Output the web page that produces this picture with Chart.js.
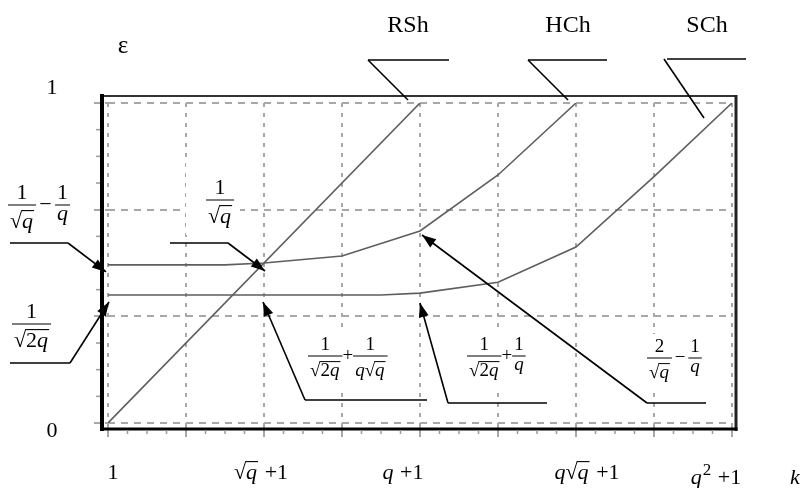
<!DOCTYPE html>
<html>
<head>
<meta charset="utf-8">
<title>ε(k)</title>
<script src="https://cdn.jsdelivr.net/npm/chart.js@4.4.1/dist/chart.umd.min.js"></script>
<style>
  html, body { margin: 0; padding: 0; background: #fff; }
  #wrap { width: 803px; height: 488px; position: relative; }
</style>
</head>
<body>
<div id="wrap"><canvas id="eps"></canvas></div>
<script>
// k runs over 8 grid steps from 1 to q^2+1, epsilon from 0 to 1
var xTickValues = [0, 2, 4, 6, 8];
var xTickLabels = ['1', '√q +1', 'q +1', 'q√q +1', 'q² +1'];
var yTickValues = [0, 1];
var yTickLabels = ['0', '1'];
var yGridValues = [0, 1/3, 2/3, 1];

var seriesNames = ['RSh', 'HCh', 'SCh'];
var rshK = [0, 4];
var rshE = [0, 1];
var hchK = [0, 1.5, 2, 3, 4, 5, 6];
var hchE = [0.494, 0.494, 0.5, 0.522, 0.6, 0.775, 1];
var schK = [0, 3.5, 4, 5, 6, 7, 8];
var schE = [0.4, 0.4, 0.406, 0.44, 0.55, 0.77, 1];

// layout bits (pixels), kept apart from the values
var xTickDx = [5, -3, -17, 11, -16];
var xTickBase = [479, 479, 479, 479, 484];
var SERIF = '"Liberation Serif", "Times New Roman", serif';

function pts(ks, es) {
  return ks.map(function(k, i) { return { x: k, y: es[i] }; });
}

function F(num, den) { return { frac: [parse(num), parse(den)] }; }

// '√' takes the letters/digits after it, '²' is a superscript
function parse(str) {
  var out = [], i = 0;
  while (i < str.length) {
    var c = str[i];
    if (c === '√') {
      var j = i + 1;
      while (j < str.length && /[0-9a-z]/.test(str[j])) j++;
      out.push({ sqrt: parse(str.slice(i + 1, j)) });
      i = j;
    } else if (c === '²') {
      out.push({ sup: '2' }); i++;
    } else {
      out.push(c); i++;
    }
  }
  return out;
}

function fontFor(ch, size) {
  return (/[a-z]/.test(ch) ? 'italic ' : '') + size + 'px ' + SERIF;
}

function measure(ctx, node, size) {
  if (Array.isArray(node)) {
    return node.reduce(function(w, n) { return w + measure(ctx, n, size); }, 0);
  }
  if (typeof node === 'string') {
    if (node === ' ') return size * 0.3;
    if (node === '~') return size * 0.15;
    ctx.font = fontFor(node, size);
    return ctx.measureText(node).width;
  }
  if (node.sqrt) {
    ctx.font = size + 'px ' + SERIF;
    return ctx.measureText('√').width + measure(ctx, node.sqrt, size) + 1;
  }
  if (node.sup) {
    ctx.font = Math.round(size * 0.75) + 'px ' + SERIF;
    return ctx.measureText(node.sup).width + 1;
  }
  if (node.frac) {
    return Math.max(measure(ctx, node.frac[0], size), measure(ctx, node.frac[1], size)) + 4;
  }
  return 0;
}

function ascent(ctx, node, size) {
  if (Array.isArray(node)) {
    return node.reduce(function(a, n) { return Math.max(a, ascent(ctx, n, size)); }, 0);
  }
  if (typeof node === 'string') {
    ctx.font = fontFor(node, size);
    return ctx.measureText(node).actualBoundingBoxAscent;
  }
  if (node.sqrt) {
    ctx.font = size + 'px ' + SERIF;
    return ctx.measureText('√').actualBoundingBoxAscent;
  }
  return size * 0.7;
}

function draw(ctx, node, x, base, size) {
  if (Array.isArray(node)) {
    node.forEach(function(n) { x = draw(ctx, n, x, base, size); });
    return x;
  }
  if (typeof node === 'string') {
    if (node === ' ') return x + size * 0.3;
    if (node === '~') return x + size * 0.15;
    ctx.font = fontFor(node, size);
    ctx.fillText(node, x, base);
    return x + ctx.measureText(node).width;
  }
  if (node.sqrt) {
    ctx.font = size + 'px ' + SERIF;
    var m = ctx.measureText('√');
    ctx.fillText('√', x, base);
    var x0 = x + m.width;
    var top = base - m.actualBoundingBoxAscent + 0.6;
    var x1 = draw(ctx, node.sqrt, x0, base, size) + 1;
    ctx.beginPath();
    ctx.moveTo(x0 - 0.8, top);
    ctx.lineTo(x1, top);
    ctx.lineWidth = Math.max(1, size / 20);
    ctx.strokeStyle = '#000';
    ctx.stroke();
    return x1;
  }
  if (node.sup) {
    ctx.font = Math.round(size * 0.75) + 'px ' + SERIF;
    ctx.fillText(node.sup, x + 1, base - size * 0.42);
    return x + 1 + ctx.measureText(node.sup).width;
  }
  if (node.frac) {
    var w = measure(ctx, node, size);
    var nw = measure(ctx, node.frac[0], size);
    var dw = measure(ctx, node.frac[1], size);
    var bar = base - size * 0.27;
    draw(ctx, node.frac[0], x + (w - nw) / 2, bar - 6, size);
    draw(ctx, node.frac[1], x + (w - dw) / 2, bar + 5 + ascent(ctx, node.frac[1], size), size);
    ctx.beginPath();
    ctx.moveTo(x, bar);
    ctx.lineTo(x + w, bar);
    ctx.lineWidth = 1;
    ctx.strokeStyle = '#000';
    ctx.stroke();
    return x + w;
  }
  return x;
}

// formula callouts: expression, left edge and bar height, shelf [x1, x2, y], which end the leader leaves from, data point it points at
var notes = [
  { expr: [F('1', '√q'), '~', '−', '~', F('1', 'q')], size: 22, x: 8, bar: 205,
    shelf: [10, 68, 243], tail: 68, at: [hchK[0], hchE[0]], off: [-2, 7] },
  { expr: [F('1', '√q')], size: 22, x: 206, bar: 200, box: [186, 160, 54, 75],
    shelf: [170, 228, 243], tail: 228, at: [rshK[0] + 2, 0.5], off: [1, 8] },
  { expr: [F('1', '√2q')], size: 22, x: 12, bar: 324,
    shelf: [10, 70, 363], tail: 70, at: [schK[0], schE[0]], off: [1, 7] },
  { expr: [F('1', '√2q'), '+', F('1', 'q√q')], size: 19, x: 308, bar: 356,
    shelf: [305, 427, 400], tail: 305, at: [2, schE[0]], off: [-1, 7] },
  { expr: [F('1', '√2q'), '+', F('1', 'q')], size: 19, x: 467, bar: 356,
    shelf: [448, 547, 403], tail: 448, at: [schK[2], schE[2]], off: [0, 10] },
  { expr: [F('2', '√q'), '~', '−', '~', F('1', 'q')], size: 19, x: 647, bar: 358,
    shelf: [647, 706, 403], tail: 647, at: [hchK[4], hchE[4]], off: [2, 4] }
];

// series name callouts
var nameNotes = [
  { x: 408, shelf: [368, 449, 60], tail: 368, at: [rshK[1], rshE[1]], off: [-12, -3] },
  { x: 568, shelf: [528, 607, 60], tail: 528, at: [hchK[6], hchE[6]], off: [-8, -3] },
  { x: 707, shelf: [667, 746, 59], tail: 664, at: [schK[6], schE[6]], off: [-28, 15] }
];

function arrowLine(ctx, x1, y1, x2, y2, head) {
  ctx.beginPath();
  ctx.moveTo(x1, y1);
  ctx.lineTo(x2, y2);
  ctx.strokeStyle = '#000';
  ctx.lineWidth = 1.6;
  ctx.stroke();
  if (!head) return;
  var a = Math.atan2(y2 - y1, x2 - x1), L = 14, H = 5;
  ctx.beginPath();
  ctx.moveTo(x2, y2);
  ctx.lineTo(x2 - L * Math.cos(a) + H * Math.sin(a), y2 - L * Math.sin(a) - H * Math.cos(a));
  ctx.lineTo(x2 - L * Math.cos(a) - H * Math.sin(a), y2 - L * Math.sin(a) + H * Math.cos(a));
  ctx.closePath();
  ctx.fillStyle = '#000';
  ctx.fill();
}

var decor = {
  id: 'decor',
  beforeDatasetsDraw: function(chart) {
    var ctx = chart.ctx;
    ctx.save();
    ctx.fillStyle = '#fff';
    notes.forEach(function(n) {
      var w = measure(ctx, n.expr, n.size);
      var b = n.box || [n.x - 3, n.bar - 24, w + 6, 56];
      ctx.fillRect(b[0], b[1], b[2], b[3]);
    });
    ctx.restore();
  },
  afterDraw: function(chart) {
    var ctx = chart.ctx, a = chart.chartArea, xs = chart.scales.x, ys = chart.scales.y;
    ctx.save();

    // frame round the plot
    var fl = a.left - 6, fr = a.right + 4, ft = a.top - 7, fb = a.bottom + 6;
    ctx.lineCap = 'butt';
    ctx.strokeStyle = '#333'; ctx.lineWidth = 2;
    ctx.beginPath(); ctx.moveTo(fl, ft); ctx.lineTo(fr, ft); ctx.stroke();
    ctx.strokeStyle = '#222'; ctx.lineWidth = 3;
    ctx.beginPath(); ctx.moveTo(fr, ft - 1); ctx.lineTo(fr, fb + 2); ctx.stroke();
    ctx.strokeStyle = '#000'; ctx.lineWidth = 3;
    ctx.beginPath(); ctx.moveTo(fl - 2, fb); ctx.lineTo(fr + 1.5, fb); ctx.stroke();
    ctx.lineWidth = 4;
    ctx.beginPath(); ctx.moveTo(fl, ft - 2); ctx.lineTo(fl, fb + 2); ctx.stroke();

    // minor ticks
    ctx.strokeStyle = '#9a9a9a'; ctx.lineWidth = 1.5;
    for (var i = 1; i < 32; i++) {
      if (i % 4 === 0) continue;
      var px = xs.getPixelForValue(i / 4);
      ctx.beginPath(); ctx.moveTo(px, fb + 1); ctx.lineTo(px, fb + 5); ctx.stroke();
    }
    for (var j = 1; j < 12; j++) {
      if (j % 4 === 0) continue;
      var py = ys.getPixelForValue(j / 12);
      ctx.beginPath(); ctx.moveTo(fl - 6, py); ctx.lineTo(fl - 2, py); ctx.stroke();
    }

    ctx.fillStyle = '#000';
    ctx.textBaseline = 'alphabetic';

    // tick labels
    xTickValues.forEach(function(v, i) {
      var node = parse(xTickLabels[i]);
      var w = measure(ctx, node, 22);
      draw(ctx, node, xs.getPixelForValue(v) + xTickDx[i] - w / 2, xTickBase[i], 22);
    });
    yTickValues.forEach(function(v, i) {
      ctx.font = '22px ' + SERIF;
      ctx.textAlign = 'center';
      var py = ys.getPixelForValue(v);
      ctx.fillText(yTickLabels[i], 52, v === 1 ? py - 9 : py + 14);
      ctx.textAlign = 'left';
    });

    // axis names
    ctx.textAlign = 'center';
    ctx.font = '25px ' + SERIF;
    ctx.fillText('ε', 123, 53);
    ctx.font = 'italic 22px ' + SERIF;
    ctx.fillText('k', 795, 484);

    // series names with their leaders
    ctx.font = '24px ' + SERIF;
    nameNotes.forEach(function(n, i) {
      ctx.fillText(seriesNames[i], n.x, 32);
      ctx.beginPath(); ctx.moveTo(n.shelf[0], n.shelf[2]); ctx.lineTo(n.shelf[1], n.shelf[2]);
      ctx.strokeStyle = '#000'; ctx.lineWidth = 1.6; ctx.stroke();
      arrowLine(ctx, n.tail, n.shelf[2], xs.getPixelForValue(n.at[0]) + n.off[0],
        ys.getPixelForValue(n.at[1]) + n.off[1], false);
    });
    ctx.textAlign = 'left';

    // formula callouts
    notes.forEach(function(n) {
      draw(ctx, n.expr, n.x, n.bar + n.size * 0.27, n.size);
      ctx.beginPath(); ctx.moveTo(n.shelf[0], n.shelf[2]); ctx.lineTo(n.shelf[1], n.shelf[2]);
      ctx.strokeStyle = '#000'; ctx.lineWidth = 1.6; ctx.stroke();
      arrowLine(ctx, n.tail, n.shelf[2], xs.getPixelForValue(n.at[0]) + n.off[0],
        ys.getPixelForValue(n.at[1]) + n.off[1], true);
    });
    ctx.restore();
  }
};

var curveStyle = { borderColor: '#5e5e5e', borderWidth: 1.6, pointRadius: 0, fill: false, tension: 0 };

var chart = new Chart(document.getElementById('eps'), {
  type: 'line',
  data: {
    datasets: [
      Object.assign({ label: seriesNames[0], data: pts(rshK, rshE) }, curveStyle),
      Object.assign({ label: seriesNames[1], data: pts(hchK, hchE) }, curveStyle),
      Object.assign({ label: seriesNames[2], data: pts(schK, schE) }, curveStyle)
    ]
  },
  options: {
    responsive: true,
    maintainAspectRatio: false,
    animation: false,
    events: [],
    layout: { padding: { top: 103, right: 71, left: 0, bottom: 0 } },
    plugins: { legend: { display: false }, tooltip: { enabled: false } },
    scales: {
      x: {
        type: 'linear', min: 0, max: 8,
        ticks: { stepSize: 1, display: false },
        grid: { color: '#a8a8a8', lineWidth: 2, tickLength: 14,
                tickColor: '#a8a8a8', tickWidth: 2, tickBorderDash: [] },
        border: { display: false, dash: [4, 6] },
        afterFit: function(s) { s.height = 65; }
      },
      y: {
        type: 'linear', min: 0, max: 1,
        afterBuildTicks: function(s) { s.ticks = yGridValues.map(function(v) { return { value: v }; }); },
        ticks: { display: false },
        grid: { color: '#a8a8a8', lineWidth: 2, tickLength: 14,
                tickColor: '#a8a8a8', tickWidth: 2, tickBorderDash: [6, 5] },
        border: { display: false, dash: [7, 6] },
        afterFit: function(s) { s.width = 108; }
      }
    }
  },
  plugins: [decor]
});
</script>
</body>
</html>
